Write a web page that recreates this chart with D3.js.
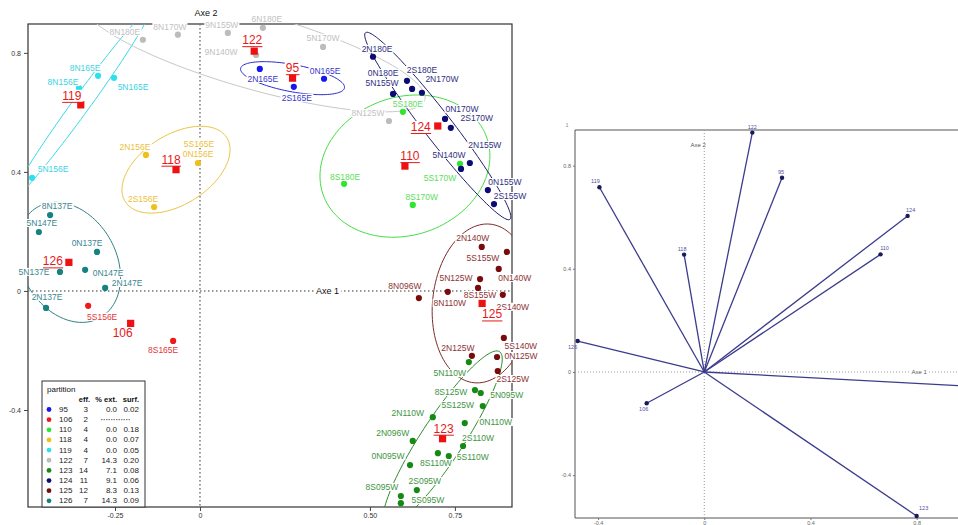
<!DOCTYPE html>
<html>
<head>
<meta charset="utf-8">
<script src="https://cdn.jsdelivr.net/npm/d3@7/dist/d3.min.js"></script>
<style>
  html, body { margin: 0; padding: 0; background: #fff; }
  svg { display: block; }
  text { font-family: "Liberation Sans", Arial, Helvetica, sans-serif; }
</style>
</head>
<body>
<svg id="chart" width="958" height="525"></svg>
<script>
// ---------- partition groups ----------
const groupIds  = ["95", "106", "110", "118", "119", "122", "123", "124", "125", "126"];
const groupEff  = [3, 2, 4, 4, 4, 7, 14, 11, 12, 7];
const groupExt  = ["0.0", null, "0.0", "0.0", "0.0", "14.3", "7.1", "9.1", "8.3", "14.3"];
const groupSurf = ["0.02", null, "0.18", "0.07", "0.05", "0.20", "0.08", "0.06", "0.13", "0.09"];

// dispersion ellipse of each group (axis units): half-extent on Axe 1, on Axe 2, correlation
const ellipseSx = [0.153, null, 0.25, 0.159, 0.2035, 0.503, 0.1756, 0.215, 0.147, 0.152];
const ellipseSy = [0.0555, null, 0.239, 0.146, 0.319, 0.204, 0.295, 0.315, 0.267, 0.2017];
const ellipseR  = [-0.55, null, 0.14, 0.46, 0.988, -0.762, 0.908, -0.97, 0.1, -0.25];

// ---------- sites (factorial coordinates) ----------
const siteName = [
  "2N165E","0N165E","2S165E",
  "5S156E","8S165E",
  "5S180E","8S180E","8S170W","5S170W",
  "2N156E","5S165E","0N156E","2S156E",
  "8N165E","8N156E","5N165E","5N156E",
  "8N180E","8N170W","9N155W","6N180E","9N140W","5N170W","8N125W",
  "5N110W","8S125W","5N095W","5S125W","2N110W","0N110W","2N096W","2S110W","8S110W","5S110W","0N095W","2S095W","8S095W","5S095W",
  "2N180E","2S180E","0N180E","2N170W","5N155W","0N170W","2S170W","5N140W","2N155W","0N155W","2S155W",
  "2N140W","5S155W","0N140W","5N125W","8S155W","2S140W","8N110W","8N096W","5S140W","0N125W","2N125W","2S125W",
  "8N137E","5N147E","0N137E","5N137E","0N147E","2N147E","2N137E"
];
const siteGroup = [
  "95","95","95",
  "106","106",
  "110","110","110","110",
  "118","118","118","118",
  "119","119","119","119",
  "122","122","122","122","122","122","122",
  "123","123","123","123","123","123","123","123","123","123","123","123","123","123",
  "124","124","124","124","124","124","124","124","124","124","124",
  "125","125","125","125","125","125","125","125","125","125","125","125",
  "126","126","126","126","126","126","126"
];
const siteAx1 = [
  0.176, 0.365, 0.276,
  -0.329, -0.079,
  0.597, 0.424, 0.626, 0.765,
  -0.159, -0.006, 0.018, -0.135,
  -0.300, -0.356, -0.253, -0.494,
  -0.168, -0.065, 0.082, 0.185, 0.165, 0.362, 0.556,
  0.791, 0.809, 0.826, 0.832, 0.685, 0.779, 0.626, 0.774, 0.700, 0.732, 0.618, 0.638, 0.591, 0.591,
  0.509, 0.609, 0.624, 0.653, 0.568, 0.721, 0.738, 0.768, 0.794, 0.847, 0.865,
  0.829, 0.903, 0.879, 0.824, 0.818, 0.891, 0.729, 0.644, 0.894, 0.874, 0.800, 0.876,
  -0.441, -0.474, -0.303, -0.412, -0.338, -0.279, -0.453
];
const siteAx2 = [
  0.746, 0.713, 0.686,
  -0.050, -0.168,
  0.602, 0.360, 0.289, 0.427,
  0.457, 0.430, 0.461, 0.282,
  0.723, 0.682, 0.716, 0.380,
  0.844, 0.861, 0.867, 0.884, 0.793, 0.820, 0.571,
  -0.239, -0.333, -0.343, -0.387, -0.424, -0.444, -0.504, -0.521, -0.545, -0.555, -0.585, -0.669, -0.689, -0.713,
  0.787, 0.706, 0.679, 0.666, 0.662, 0.578, 0.548, 0.410, 0.430, 0.339, 0.292,
  0.148, 0.131, 0.074, 0.040, 0.010, -0.013, -0.003, -0.024, -0.158, -0.222, -0.218, -0.269,
  0.255, 0.198, 0.131, 0.064, 0.071, 0.010, -0.057
];

// ---------- group vectors (second panel) ----------
const vecGroup = ["122", "95", "119", "118", "124", "110", "126", "106", "123", "125"];
const vecAx1   = [0.181, 0.293, -0.395, -0.076, 0.766, 0.664, -0.477, -0.217, 0.800, 0.99];
const vecAx2   = [0.928, 0.753, 0.716, 0.455, 0.605, 0.456, 0.120, -0.121, -0.558, -0.055];

// ---------- tick labels ----------
const xTicksMain = [-0.25, 0, 0.5, 0.75];
const xTickTextMain = ["-0.25", "0", "0.50", "0.75"];
const yTicksMain = [-0.4, 0, 0.4, 0.8];
const yTickTextMain = ["-0.4", "0", "0.4", "0.8"];
const xTicksVec = [-0.4, 0, 0.4, 0.8];
const xTickTextVec = ["-0.4", "0", "0.4", "0.8"];
const yTicksVec = [-0.4, 0, 0.4, 0.8];
const yTickTextVec = ["-0.4", "0", "0.4", "0.8"];

// ---------- styles ----------
const pointColor = { "95":"#1616ee", "106":"#ee1a1a", "110":"#2ee62e", "118":"#f0c018", "119":"#2ee0ee",
                     "122":"#bcbcbc", "123":"#148a14", "124":"#0b0b76", "125":"#780c0c", "126":"#158282" };
const textColor  = { "95":"#3838c8", "106":"#e23838", "110":"#5cde5c", "118":"#ecbf3c", "119":"#3cd4e2",
                     "122":"#c2c2c2", "123":"#3f943f", "124":"#30307f", "125":"#8c3434", "126":"#3c8690" };
const lineColor  = { "95":"#2a2ad0", "110":"#46dc46", "118":"#ecc444", "119":"#3ad8e6",
                     "122":"#c8c8c8", "123":"#2e8c2e", "124":"#1e1e6c", "125":"#7e2a2a", "126":"#2f7f86" };

// label nudges (pixels) relative to each site
const labelNudge = [
  [3,10],[1,-8],[3,11],
  [14,11],[-10,9],
  [5,-8],[1,-7],[9,-8],[-20,14],
  [-11,-8],[1,-19],[-8,0],[-11,-8],
  [-13,-8],[-16,-6],[19,9],[21,-9],
  [-18,-8],[-8,-8],[-6,-8],[4,-9],[-35,-3],[0,-9],[-21,-8],
  [-19,11],[-24,2],[26,2],[-25,-1],[-25,-4],[31,-1],[-20,-8],[15,-8],[-2,10],[24,1],[-22,-9],[8,-9],[-19,-9],[27,-3],
  [4,-8],[15,-11],[-29,-16],[20,-14],[-11,-11],[17,-10],[26,-10],[-12,-14],[15,-18],[17,-8],[16,-8],
  [-9,-9],[-24,6],[16,9],[-24,-1],[2,7],[10,12],[2,11],[-14,-12],[17,8],[24,-1],[-14,-8],[15,8],
  [7,-9],[3,-9],[-10,-9],[-26,0],[23,3],[22,-5],[1,-11]
];
const centroidNudge = { "95":[0,-10], "106":[-8,10], "110":[5,-10], "118":[-5,-10], "119":[-9,-9],
                        "122":[-2,-11], "123":[1,-10], "124":[-17,1], "125":[10,11], "126":[-16,-1] };
const vecLabelNudge = { "122":[0,-6], "95":[-1,-6], "119":[-4,-6], "118":[-2,-6], "124":[3,-6],
                        "110":[4,-6], "126":[-5,6], "106":[-3,6], "123":[7,-8], "125":[0,-6] };

const W = 958;
const svg = d3.select("#chart");

// boxed label in the manner of s.label: white box behind the text
function boxedText(g, px, py, str, size, color, pad) {
  const t = g.append("text")
    .attr("x", px).attr("y", py)
    .attr("text-anchor", "middle")
    .attr("dominant-baseline", "central")
    .attr("font-size", size)
    .attr("fill", color)
    .text(str);
  const bb = t.node().getBBox();
  g.insert("rect", () => t.node())
    .attr("x", bb.x - pad).attr("y", bb.y + 1)
    .attr("width", bb.width + 2 * pad).attr("height", Math.max(0, bb.height - 2))
    .attr("fill", "#fff");
  return bb;
}

// ================= main factorial map =================
const x = d3.scaleLinear().domain([-0.506, 0.918]).range([28, 512]);
const y = d3.scaleLinear().domain([-0.726, 0.897]).range([507, 24]);
const [xl, xr] = x.range(), [yb, yt] = y.range();

const main = svg.append("g");
main.append("clipPath").attr("id", "plotClip")
  .append("rect").attr("x", xl).attr("y", yt).attr("width", xr - xl).attr("height", yb - yt);

// frame
main.append("rect").attr("x", xl).attr("y", yt).attr("width", xr - xl).attr("height", yb - yt)
  .attr("fill", "none").attr("stroke", "#333").attr("stroke-width", 1.2);

// dotted origin axes
main.append("line").attr("x1", x(0)).attr("x2", x(0)).attr("y1", yt).attr("y2", yb)
  .attr("stroke", "#777").attr("stroke-width", 1.5).attr("stroke-dasharray", "1.5,2.5");
main.append("line").attr("x1", xl).attr("x2", xr).attr("y1", y(0)).attr("y2", y(0))
  .attr("stroke", "#777").attr("stroke-width", 1.5).attr("stroke-dasharray", "1.5,2.5");

// axes with tick marks
const yAxis = d3.axisLeft(y).tickValues(yTicksMain).tickSize(4).tickPadding(3)
  .tickFormat((d, i) => yTickTextMain[i]);
const yAx = main.append("g").attr("transform", `translate(${xl},0)`).call(yAxis);
const xAxis = d3.axisBottom(x).tickValues(xTicksMain).tickSize(4).tickPadding(2)
  .tickFormat((d, i) => xTickTextMain[i]);
const xAx = main.append("g").attr("transform", `translate(0,${yb})`).call(xAxis);
[yAx, xAx].forEach(a => {
  a.select(".domain").remove();
  a.selectAll("line").attr("stroke", "#444");
  a.selectAll("text").attr("font-size", 7).attr("fill", "#333")
    .attr("font-family", "'Liberation Sans', Arial, sans-serif");
});

// site records
const sites = siteName.map((n, i) => ({ name: n, group: siteGroup[i], a1: siteAx1[i], a2: siteAx2[i], nudge: labelNudge[i] }));
const byGroup = d3.group(sites, d => d.group);
const centroids = groupIds.map(g => {
  const s = byGroup.get(g);
  return { group: g, a1: d3.mean(s, d => d.a1), a2: d3.mean(s, d => d.a2) };
});

// ellipses
const ellLine = d3.line().x(d => x(d[0])).y(d => y(d[1])).curve(d3.curveLinearClosed);
const ellG = main.append("g").attr("clip-path", "url(#plotClip)");
groupIds.forEach((g, gi) => {
  if (ellipseSx[gi] == null) return;
  const c = centroids[gi];
  const phi = Math.acos(ellipseR[gi]);
  const pts = d3.range(120).map(k => {
    const t = k / 120 * 2 * Math.PI;
    return [c.a1 + ellipseSx[gi] * Math.cos(t), c.a2 + ellipseSy[gi] * Math.cos(t - phi)];
  });
  ellG.append("path").attr("d", ellLine(pts)).attr("fill", "none")
    .attr("stroke", lineColor[g]).attr("stroke-width", 1);
});

// site points
main.append("g").selectAll("circle").data(sites).join("circle")
  .attr("cx", d => x(d.a1)).attr("cy", d => y(d.a2)).attr("r", 3.1)
  .attr("fill", d => pointColor[d.group]);

// centroid squares
main.append("g").selectAll("rect").data(centroids).join("rect")
  .attr("x", d => x(d.a1) - 3.6).attr("y", d => y(d.a2) - 3.6)
  .attr("width", 7.2).attr("height", 7.2).attr("fill", "#ee1111");

// site labels
const labG = main.append("g");
sites.forEach(d => {
  boxedText(labG, x(d.a1) + d.nudge[0], y(d.a2) + d.nudge[1], d.name, 8.5, textColor[d.group], 1);
});

// centroid labels (underlined)
const cenG = main.append("g");
centroids.forEach(d => {
  const n = centroidNudge[d.group];
  const bb = boxedText(cenG, x(d.a1) + n[0], y(d.a2) + n[1], d.group, 12, "#e81818", 1);
  if (d.group !== "106") {
    cenG.append("line").attr("x1", bb.x).attr("x2", bb.x + bb.width)
      .attr("y1", bb.y + bb.height - 0.5).attr("y2", bb.y + bb.height - 0.5)
      .attr("stroke", "#e81818").attr("stroke-width", 1);
  }
});

// axis titles
boxedText(main, x(0) + 6, yt - 11, "Axe  2", 9, "#111", 1);
boxedText(main, x(0.375), y(0), "Axe    1", 9, "#111", 2);

// legend
const lg = main.append("g");
const lgX = 42, lgY = 381, lgW = 103, lgH = 126;
lg.append("rect").attr("x", lgX).attr("y", lgY).attr("width", lgW).attr("height", lgH)
  .attr("fill", "#fff").attr("stroke", "#333").attr("stroke-width", 1);
lg.append("text").attr("x", lgX + 5).attr("y", lgY + 11).attr("font-size", 8).attr("fill", "#111").text("partition");
const hdrY = lgY + 21;
[["eff.", 48], ["% ext.", 75], ["surf.", 97]].forEach(([t, dx]) => {
  lg.append("text").attr("x", lgX + dx).attr("y", hdrY).attr("text-anchor", "end")
    .attr("font-size", 7.5).attr("font-weight", "bold").attr("fill", "#111").text(t);
});
groupIds.forEach((g, i) => {
  const ry = lgY + 28.5 + i * 10.15;
  lg.append("circle").attr("cx", lgX + 7).attr("cy", ry).attr("r", 2.4).attr("fill", pointColor[g]);
  lg.append("text").attr("x", lgX + 17).attr("y", ry).attr("dominant-baseline", "central")
    .attr("font-size", 8).attr("fill", "#222").text(g);
  lg.append("text").attr("x", lgX + 46).attr("y", ry).attr("dominant-baseline", "central")
    .attr("text-anchor", "end").attr("font-size", 8).attr("fill", "#222").text(groupEff[i]);
  if (groupExt[i] == null) {
    lg.append("line").attr("x1", lgX + 59).attr("x2", lgX + 89).attr("y1", ry).attr("y2", ry)
      .attr("stroke", "#444").attr("stroke-width", 0.8).attr("stroke-dasharray", "1.5,1");
  } else {
    lg.append("text").attr("x", lgX + 75).attr("y", ry).attr("dominant-baseline", "central")
      .attr("text-anchor", "end").attr("font-size", 8).attr("fill", "#222").text(groupExt[i]);
    lg.append("text").attr("x", lgX + 97).attr("y", ry).attr("dominant-baseline", "central")
      .attr("text-anchor", "end").attr("font-size", 8).attr("fill", "#222").text(groupSurf[i]);
  }
});

// ================= group vectors panel =================
const x2 = d3.scaleLinear().domain([-0.487, 1.05]).range([575, 983]);
const y2 = d3.scaleLinear().domain([-0.566, 0.938]).range([518, 130]);
const vp = svg.append("g");
const [vxl, vxr] = x2.range(), [vyb, vyt] = y2.range();

vp.append("line").attr("x1", vxl).attr("x2", vxr).attr("y1", vyt).attr("y2", vyt).attr("stroke", "#555").attr("stroke-width", 1);
vp.append("line").attr("x1", vxl).attr("x2", vxr).attr("y1", vyb).attr("y2", vyb).attr("stroke", "#555").attr("stroke-width", 1);
vp.append("line").attr("x1", vxl).attr("x2", vxl).attr("y1", vyt).attr("y2", vyb).attr("stroke", "#555").attr("stroke-width", 1);

vp.append("line").attr("x1", x2(0)).attr("x2", x2(0)).attr("y1", vyt).attr("y2", vyb)
  .attr("stroke", "#999").attr("stroke-width", 1).attr("stroke-dasharray", "1,2");
vp.append("line").attr("x1", vxl).attr("x2", vxr).attr("y1", y2(0)).attr("y2", y2(0))
  .attr("stroke", "#999").attr("stroke-width", 1).attr("stroke-dasharray", "1,2");

const yAxis2 = d3.axisLeft(y2).tickValues(yTicksVec).tickSize(2).tickPadding(2).tickFormat((d, i) => yTickTextVec[i]);
const xAxis2 = d3.axisBottom(x2).tickValues(xTicksVec).tickSize(2).tickPadding(1).tickFormat((d, i) => xTickTextVec[i]);
const ya2 = vp.append("g").attr("transform", `translate(${vxl},0)`).call(yAxis2);
const xa2 = vp.append("g").attr("transform", `translate(0,${vyb})`).call(xAxis2);
[ya2, xa2].forEach(a => {
  a.select(".domain").remove();
  a.selectAll("line").attr("stroke", "#777");
  a.selectAll("text").attr("font-size", 5.5).attr("fill", "#666")
    .attr("font-family", "'Liberation Sans', Arial, sans-serif");
});
// scale maximum marked at the top-left corner of the frame
vp.append("text").attr("x", vxl - 8).attr("y", vyt - 5).attr("text-anchor", "middle")
  .attr("dominant-baseline", "central").attr("font-size", 5.5).attr("fill", "#888").text("1");

boxedText(vp, x2(0) - 6, vyt + 15, "Axe  2", 6, "#555", 1);
boxedText(vp, x2(0.81), y2(0), "Axe  1", 6, "#555", 1);

const vecs = vecGroup.map((g, i) => ({ group: g, a1: vecAx1[i], a2: vecAx2[i] }));
vp.append("g").selectAll("line").data(vecs).join("line")
  .attr("x1", x2(0)).attr("y1", y2(0))
  .attr("x2", d => x2(d.a1)).attr("y2", d => y2(d.a2))
  .attr("stroke", "#3c3c8e").attr("stroke-width", 1.3);
vp.append("g").selectAll("circle").data(vecs).join("circle")
  .attr("cx", d => x2(d.a1)).attr("cy", d => y2(d.a2)).attr("r", 2.2).attr("fill", "#1a1a5c");
// labels only for vector tips that fall inside the page
vp.append("g").selectAll("text").data(vecs.filter(d => x2(d.a1) < W - 6)).join("text")
  .attr("x", d => x2(d.a1) + vecLabelNudge[d.group][0])
  .attr("y", d => y2(d.a2) + vecLabelNudge[d.group][1])
  .attr("text-anchor", "middle").attr("dominant-baseline", "central")
  .attr("font-size", 5.5).attr("fill", "#5050a8").text(d => d.group);
</script>
</body>
</html>
